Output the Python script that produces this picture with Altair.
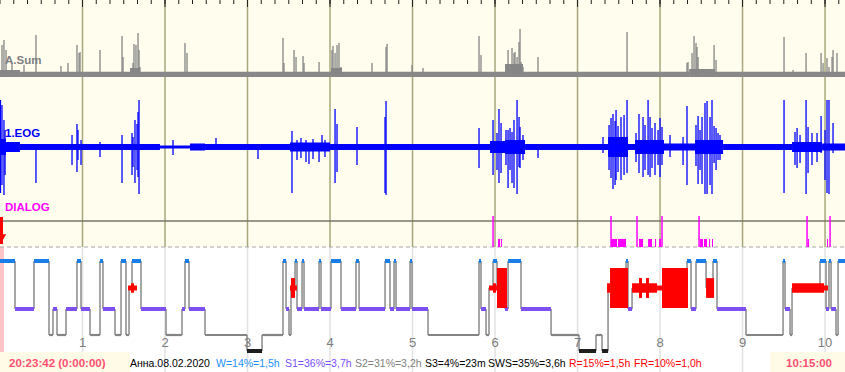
import altair as alt
import pandas as pd

# ---------------------------------------------------------------- data
# time axis: hours from recording start (20:23:42)
END_T = 10.242
HOURS = [1, 2, 3, 4, 5, 6, 7, 8, 9, 10]
HOUR_TEXT = ["1", "2", "3", "4", "5", "6", "7", "8", "9", "10"]
TICKS_10MIN = [k / 6 for k in range(62)]

# A.Sum channel: baseline envelope segments and isolated spikes (amplitude, arbitrary units)
ASUM_BAND_T0 = [0.0, 0.242, 1.576, 1.697, 4.012, 4.145, 6.121, 6.339, 8.352, 8.667]
ASUM_BAND_T1 = [0.242, 1.576, 1.697, 4.012, 4.145, 6.121, 6.339, 8.352, 8.667, 10.242]
ASUM_BAND_HI = [4, 2.2, 6, 2.2, 6, 2.2, 10, 2.2, 5, 2.2]
ASUM_BAND_LO = [-3, -3, -3, -3, -3, -3, -3, -3, -3, -3]
ASUM_SPIKE_T = [0.024, 0.048, 0.073, 0.145, 0.291, 0.436, 0.739, 0.824, 0.933, 0.958,
                0.970, 1.212, 1.479, 1.491, 1.612, 1.624, 1.648, 1.673, 1.685, 1.697,
                2.242, 2.267, 3.430, 3.442, 3.564, 3.588, 3.673, 3.685, 3.867, 4.024,
                4.036, 4.061, 4.085, 4.109, 4.133, 4.509, 4.679, 4.691, 4.994, 5.127,
                5.806, 5.830, 6.158, 6.206, 6.230, 6.242, 6.267, 6.291, 6.303, 6.315,
                6.339, 6.521, 7.600, 8.327, 8.339, 8.388, 8.412, 8.436, 8.448, 8.461,
                8.655, 8.679, 9.503, 9.612, 9.770, 9.952, 9.976, 10.024, 10.048, 10.085,
                10.097, 10.145]
ASUM_SPIKE_A = [29, 34, 24, 11, 9, 39, 8, 11, 29, 21,
                22, 24, 38, 17, 11, 30, 29, 41, 24, 7,
                31, 21, 36, 11, 24, 17, 18, 11, 12, 24,
                28, 21, 29, 31, 7, 11, 27, 30, 9, 6,
                38, 19, 24, 26, 21, 22, 17, 32, 45, 12,
                7, 17, 42, 11, 12, 21, 38, 31, 27, 17,
                29, 14, 37, 4, 21, 21, 11, 16, 7, 17,
                24, 21]

# 1.EOG channel: noise envelope segments and spikes (top / bottom)
EOG_BAND_T0 = [0.0, 0.073, 0.242, 1.939, 2.303, 2.485, 3.515, 4.000, 5.939, 6.121,
               6.364, 7.370, 7.612, 7.697, 8.048, 8.424, 8.764, 9.600, 9.964]
EOG_BAND_AMP = [8, 5, 3, 1.5, 3.5, 3, 4.5, 3, 6, 7,
                3, 10, 3, 7, 3.5, 7, 3, 5, 3.5]
EOG_SPIKE_T = [0.006, 0.024, 0.048, 0.061, 0.436, 0.873, 0.933, 0.945, 0.982, 1.212,
               1.479, 1.600, 1.612, 1.636, 1.661, 1.673, 1.685, 2.097, 2.618, 3.127,
               3.539, 3.745, 3.867, 3.903, 4.061, 4.085, 4.327, 4.667, 4.679, 5.806,
               5.976, 6.024, 6.048, 6.073, 6.158, 6.206, 6.230, 6.267, 6.291, 6.303,
               6.521, 7.309, 7.430, 7.467, 7.527, 7.600, 7.745, 7.794, 7.855, 7.879,
               7.939, 8.000, 8.024, 8.121, 8.279, 8.327, 8.461, 8.509, 8.545, 8.570,
               8.606, 8.630, 8.655, 8.703, 9.503, 9.661, 9.770, 9.794, 9.903, 9.952,
               10.000, 10.024, 10.048, 10.097,
               7.382, 7.406, 7.455, 7.491, 7.564, 7.709, 7.818, 7.903, 7.976, 8.436,
               8.485, 8.679, 8.727, 6.133, 6.182, 6.339, 3.600, 3.648, 3.709, 3.794,
               3.939, 9.636, 9.697, 9.842]
EOG_SPIKE_HI = [47, 42, 27, 17, 2, 12, 23, 17, 7, 5,
                12, 14, 10, 27, 23, 35, 47, 7, 9, 2,
                16, 2, 2, 12, 38, 23, 20, 30, 46, 19,
                27, 14, 38, 24, 17, 15, 27, 47, 30, 20,
                2, 10, 33, 37, 30, 47, 33, 30, 47, 30,
                24, 29, 20, 12, 10, 41, 31, 30, 44, 46,
                30, 47, 21, 14, 47, 19, 47, 20, 14, 31,
                17, 47, 47, 24,
                22, 29, 26, 21, 32, 14, 22, 19, 17, 22,
                17, 19, 12, 17, 19, 12, 7, 9, 7, 8,
                7, 15, 12, 14]
EOG_SPIKE_LO = [-46, -38, -48, -28, -36, -18, -25, -13, -18, -10,
                -36, -28, -20, -36, -23, -30, -47, -8, -3, -12,
                -46, -17, -15, -3, -36, -25, -18, -46, -48, -21,
                -28, -23, -36, -26, -41, -36, -41, -47, -20, -21,
                -11, -6, -42, -33, -33, -26, -26, -30, -28, -30,
                -28, -30, -18, -10, -18, -38, -37, -37, -47, -47,
                -38, -47, -16, -13, -46, -21, -47, -26, -15, -6,
                -33, -46, -47, -6,
                -23, -31, -38, -25, -28, -15, -23, -21, -18, -19,
                -23, -23, -13, -18, -23, -13, -13, -11, -15, -12,
                -10, -18, -16, -18]

# DIALOG events
DIALOG_TALL_T = [5.976, 7.406, 7.721, 8.024, 8.473, 9.782, 10.061]
DIALOG_SHORT_T0 = [6.036, 6.073, 7.406, 7.491, 7.745, 7.855, 7.939, 7.988, 8.485, 8.533, 8.594, 8.630, 9.794, 10.024]
DIALOG_SHORT_T1 = [6.061, 6.085, 7.479, 7.588, 7.794, 7.903, 7.952, 8.012, 8.521, 8.570, 8.606, 8.642, 9.806, 10.036]
DIALOG_SHORT_V = [0.26] * 14

# Hypnogram: stage start times (each stage lasts until the next start)
STAGE_T = [0.000, 0.182, 0.412, 0.594, 0.642, 0.691, 0.800, 0.933, 0.982, 1.091,
           1.212, 1.248, 1.394, 1.467, 1.527, 1.564, 1.600, 1.709, 2.012, 2.206,
           2.242, 2.291, 2.485, 2.994, 3.176, 3.430, 3.467, 3.503, 3.527, 3.576,
           3.600, 3.661, 3.685, 3.867, 3.891, 4.012, 4.133, 4.315, 4.352, 4.667,
           4.727, 4.776, 4.800, 4.970, 4.994, 5.188, 5.806, 5.830, 5.891, 5.927,
           5.976, 6.024, 6.121, 6.158, 6.315, 6.679, 7.018, 7.224, 7.297, 7.370,
           7.588, 7.612, 7.661, 8.327, 8.376, 8.436, 8.558, 8.642, 8.691, 9.042,
           9.491, 9.515, 9.576, 9.600, 9.939, 10.012, 10.048, 10.073, 10.133, 10.158]
STAGE = ["W", "S1", "W", "S2", "S1", "S2", "S1", "W", "S1", "S2",
         "W", "S1", "S2", "W", "S2", "R", "W", "S1", "S2", "S1",
         "W", "S1", "S2", "S3", "S2", "W", "S1", "S2", "R", "W",
         "S1", "W", "S1", "W", "S1", "W", "S1", "W", "S1", "W",
         "S1", "W", "S1", "W", "S1", "S2", "W", "S1", "S2", "R",
         "W", "R", "S1", "W", "S1", "S2", "S3", "S2", "S3", "R",
         "W", "S1", "R", "W", "S1", "W", "R", "W", "S1", "S2",
         "W", "S1", "S2", "R", "W", "S1", "W", "S1", "S2", "W"]

# REM shapes (start, end, density class)
REM_T0 = [1.552, 1.588, 3.515, 3.527, 5.927, 5.976, 6.024, 7.358, 7.394,
          7.661, 7.745, 7.830, 7.964, 8.024, 8.558, 9.600, 9.988]
REM_T1 = [1.661, 1.624, 3.600, 3.576, 6.024, 6.012, 6.145, 7.394, 7.612,
          7.964, 7.782, 7.867, 8.024, 8.339, 8.655, 9.988, 10.036]
REM_KIND = ["thin", "band", "thin", "block", "thin", "band", "big", "band", "big",
            "band", "block", "block", "thin", "big", "block", "band", "thin"]

FOOTER_LEFT = "20:23:42 (0:00:00)"
FOOTER_RIGHT = "10:15:00"
FOOTER_PARTS = ["Анна.08.02.2020", "W=14%=1,5h", "S1=36%=3,7h", "S2=31%=3,2h",
                "S3=4%=23m", "SWS=35%=3,6h", "R=15%=1,5h", "FR=10%=1,0h"]

# ---------------------------------------------------------------- styling
CREAM = "#fffdee"
OLIVE = "#a7a77b"
W_COL, S1_COL, S2_COL, S3_COL, R_COL = "#1a7ee8", "#7d50f2", "#848484", "#1e1e1e", "#ff0000"
LEVEL = {"W": 0.0, "R": 1.2, "S1": 2.133, "S2": 3.289, "S3": 4.0}
REM_HALF = {"thin": 0.11, "band": 0.21, "block": 0.44, "big": 0.89}
FONT = "Liberation Sans"

xs = alt.Scale(domain=[0, END_T], nice=False, zero=False)
ys_a = alt.Scale(domain=[0, 50], range=[74, 24])
ys_e = alt.Scale(domain=[-50, 50], range=[197, 97])
ys_d = alt.Scale(domain=[0, 1], range=[247, 216])
ys_h = alt.Scale(domain=[0, 4], range=[261, 351])

ONE = pd.DataFrame({"k": [0]})


def X(f):
    return alt.X(f, type="quantitative", scale=xs, axis=None)


def Y(f, sc):
    return alt.Y(f, type="quantitative", scale=sc, axis=None)


def box(x0, x1, y0, y1, color):
    return alt.Chart(ONE).mark_rect(color=color).encode(
        x=alt.value(x0), x2=alt.value(x1), y=alt.value(y0), y2=alt.value(y1))


def label(txt, x, y, color, size, bold=False, align="left"):
    return alt.Chart(ONE).mark_text(
        align=align, baseline="alphabetic", font=FONT, fontSize=size,
        fontWeight="bold" if bold else "normal", color=color
    ).encode(x=alt.value(x), y=alt.value(y), text=alt.value(txt))


layers = []
# backgrounds
layers.append(box(0, 845, 0, 247, CREAM))
layers.append(box(0, 4, 247, 353, "#ffc4c8"))

hours_df = pd.DataFrame({"h": HOURS, "lab": HOUR_TEXT})
layers.append(alt.Chart(hours_df).mark_rule(color=OLIVE, strokeWidth=1.5).encode(
    x=X("h"), y=alt.value(0), y2=alt.value(247)))
layers.append(alt.Chart(hours_df).mark_rule(color="#e2e2e2", strokeWidth=1.5).encode(
    x=X("h"), y=alt.value(247), y2=alt.value(372)))

ticks_df = pd.DataFrame({"t": TICKS_10MIN})
layers.append(alt.Chart(ticks_df).mark_rule(color="#222222", strokeWidth=1).encode(
    x=X("t"), y=alt.value(0), y2=alt.value(4)))
layers.append(alt.Chart(hours_df).mark_rule(color="#222222", strokeWidth=1).encode(
    x=X("h"), y=alt.value(0), y2=alt.value(7)))

# separators
layers.append(alt.Chart(ONE).mark_rule(color="#77776a", strokeWidth=1.5).encode(
    x=alt.value(0), x2=alt.value(845), y=alt.value(221)))
layers.append(alt.Chart(ONE).mark_rule(color="#a8a8a8", strokeWidth=1, strokeDash=[4, 3]).encode(
    x=alt.value(0), x2=alt.value(845), y=alt.value(247)))

# A.Sum
asum_band = pd.DataFrame({"t0": ASUM_BAND_T0, "t1": ASUM_BAND_T1, "lo": ASUM_BAND_LO, "hi": ASUM_BAND_HI})
layers.append(alt.Chart(asum_band).mark_rect(color="#888888").encode(
    x=X("t0"), x2="t1", y=Y("lo", ys_a), y2="hi"))
asum_sp = pd.DataFrame({"t": ASUM_SPIKE_T, "a": ASUM_SPIKE_A})
asum_sp["b"] = 0
layers.append(alt.Chart(asum_sp).mark_rule(color="#858585", strokeWidth=1.3).encode(
    x=X("t"), y=Y("b", ys_a), y2="a"))

# EOG
eog_band = pd.DataFrame({"t0": EOG_BAND_T0, "amp": EOG_BAND_AMP})
eog_band["t1"] = list(EOG_BAND_T0[1:]) + [END_T]
eog_band["lo"] = -eog_band["amp"]
layers.append(alt.Chart(eog_band).mark_rect(color="#0000ff").encode(
    x=X("t0"), x2="t1", y=Y("lo", ys_e), y2="amp"))
eog_sp = pd.DataFrame({"t": EOG_SPIKE_T, "hi": EOG_SPIKE_HI, "lo": EOG_SPIKE_LO})
layers.append(alt.Chart(eog_sp).mark_rule(color="#0000ff", strokeWidth=1.3).encode(
    x=X("t"), y=Y("lo", ys_e), y2="hi"))

# DIALOG
dt = pd.DataFrame({"t": DIALOG_TALL_T})
dt["v0"] = 0.0
dt["v1"] = 1.0
layers.append(alt.Chart(dt).mark_rule(color="#ff00ff", strokeWidth=1.5).encode(
    x=X("t"), y=Y("v0", ys_d), y2="v1"))
ds = pd.DataFrame({"t0": DIALOG_SHORT_T0, "t1": DIALOG_SHORT_T1, "v": DIALOG_SHORT_V})
ds["v0"] = 0.0
layers.append(alt.Chart(ds).mark_rect(color="#ff00ff").encode(
    x=X("t0"), x2="t1", y=Y("v0", ys_d), y2="v"))

# start marker arrow
layers.append(alt.Chart(ONE).mark_rule(color="#ff0000", strokeWidth=3).encode(
    x=alt.value(1.5), y=alt.value(217), y2=alt.value(244)))
layers.append(alt.Chart(ONE).mark_point(shape="triangle-down", filled=True, color="#ff0000",
                                        size=40, opacity=1).encode(
    x=alt.value(3), y=alt.value(237)))

# Hypnogram
seg = pd.DataFrame({"t0": STAGE_T, "stage": STAGE})
seg["t1"] = list(STAGE_T[1:]) + [END_T]
seg["lev"] = seg["stage"].map(LEVEL)
trans = pd.DataFrame({
    "t": STAGE_T[1:],
    "l0": [LEVEL[s] for s in STAGE[:-1]],
    "l1": [LEVEL[s] for s in STAGE[1:]],
})
layers.append(alt.Chart(trans).mark_rule(color="#8a8a8a", strokeWidth=1.5).encode(
    x=X("t"), y=Y("l0", ys_h), y2="l1"))
for st, col, w in [("S2", S2_COL, 2.2), ("S3", S3_COL, 4), ("S1", S1_COL, 4), ("W", W_COL, 4)]:
    d = seg[seg["stage"] == st]
    layers.append(alt.Chart(d).mark_rule(color=col, strokeWidth=w).encode(
        x=X("t0"), x2="t1", y=Y("lev", ys_h)))
rem = pd.DataFrame({"t0": REM_T0, "t1": REM_T1, "kind": REM_KIND})
rem["y0"] = LEVEL["R"] - rem["kind"].map(REM_HALF)
rem["y1"] = LEVEL["R"] + rem["kind"].map(REM_HALF)
layers.append(alt.Chart(rem).mark_rect(color=R_COL).encode(
    x=X("t0"), x2="t1", y=Y("y0", ys_h), y2="y1"))

layers.append(alt.Chart(hours_df).mark_text(font=FONT, fontSize=13, color="#7c7c7c",
                                            baseline="middle", align="center").encode(
    x=X("h"), y=alt.value(343), text="lab:N"))

# channel labels
layers.append(label("A.Sum", 5, 64, "#7f7f7f", 11.5, bold=True))
layers.append(label("1.EOG", 5, 137, "#0000ff", 11.5, bold=True))
layers.append(label("DIALOG", 5, 211, "#ff00ff", 11.5, bold=True))

# footer
layers.append(box(0, 130, 352, 372, "#fffbe6"))
layers.append(box(770, 845, 352, 372, "#fffbe6"))
layers.append(label(FOOTER_LEFT, 9, 367, "#ff4f72", 11.5, bold=True))
layers.append(label(FOOTER_RIGHT, 809, 367, "#ff4f72", 11.5, bold=True, align="center"))
part_x = [130, 216, 285, 355, 425, 488, 569, 634]
part_col = ["#000000", "#1e90ff", "#7b4dff", "#808080", "#000000", "#000000", "#ff0000", "#ff0000"]
for txt, px, col in zip(FOOTER_PARTS, part_x, part_col):
    layers.append(label(txt, px, 367, col, 10.5))

chart = alt.layer(*layers).resolve_scale(y="independent").properties(
    width=845, height=372, padding=0,
    autosize=alt.AutoSizeParams(type="none"), background="white"
).configure_view(stroke=None)

chart.save("out.html", embed_options={"renderer": "svg", "actions": False})
